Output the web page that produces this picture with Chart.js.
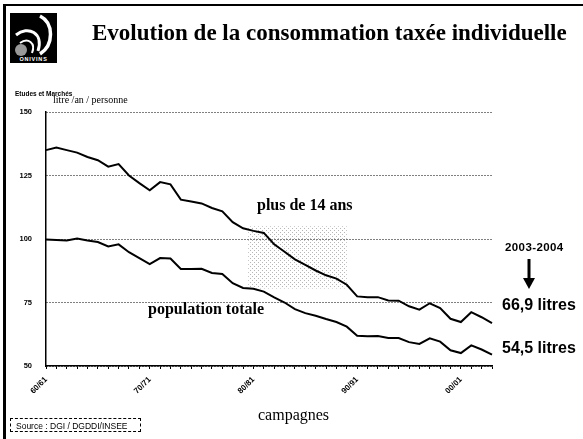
<!DOCTYPE html>
<html lang="fr">
<head>
<meta charset="utf-8">
<title>Evolution de la consommation taxée individuelle</title>
<script src="https://cdn.jsdelivr.net/npm/chart.js@4/dist/chart.umd.min.js"></script>
<style>
  html, body { margin: 0; padding: 0; background: #fff; }
  #page { position: relative; width: 583px; height: 439px; overflow: hidden; background: #fff; }
  #consoChart { position: absolute; left: 0; top: 0; }
  .txt { position: absolute; white-space: nowrap; color: #000; }
  .serif { font-family: "Liberation Serif", "DejaVu Serif", serif; }
  .sans { font-family: "Liberation Sans", Arial, sans-serif; }
  #frameTop { position: absolute; left: 3px; top: 4px; width: 580px; height: 2px; background: #000; }
  #frameLeft { position: absolute; left: 3px; top: 4px; width: 3px; height: 435px; background: #000; }
  #logo { position: absolute; left: 10px; top: 13px; }
  #source { position: absolute; left: 10px; top: 418px; width: 131px; height: 14px; border: 1px dashed #000;
            font: 8.5px "Liberation Sans", Arial, sans-serif; line-height: 14px; padding-left: 5px; box-sizing: border-box; }
</style>
</head>
<body>
<div id="page">
  <canvas id="consoChart" width="583" height="439"></canvas>
  <div id="frameTop"></div>
  <div id="frameLeft"></div>

  <svg id="logo" width="47" height="50" viewBox="0 0 47 50">
    <rect x="0" y="0" width="47" height="50" fill="#000"/>
    <path d="M30 3 C44 10 44 32 30 41" stroke="#fff" stroke-width="3.5" fill="none"/>
    <path d="M6 22 C18 12 34 20 28 38" stroke="#fff" stroke-width="3" fill="none"/>
    <path d="M10 30 C18 24 26 30 22 40" stroke="#fff" stroke-width="2" fill="none"/>
    <circle cx="11" cy="37" r="6" fill="#999"/>
    <text x="23.5" y="48" fill="#fff" font-family="Liberation Sans, Arial, sans-serif" font-size="5.5" font-weight="bold" text-anchor="middle" letter-spacing="0.8">ONIVINS</text>
  </svg>

  <div class="txt serif" style="left:92px; top:20px; font-size:23px; font-weight:bold;">Evolution de la consommation taxée individuelle</div>
  <div class="txt sans" style="left:15px; top:90px; font-size:6.5px; font-weight:bold;">Etudes et Marchés</div>
  <div class="txt serif" style="left:53px; top:94px; font-size:10px;">litre /an / personne</div>

  <div class="txt serif" style="left:257px; top:196px; font-size:16px; font-weight:bold;">plus de 14 ans</div>
  <div class="txt serif" style="left:148px; top:300px; font-size:16px; font-weight:bold;">population totale</div>

  <div class="txt sans" style="left:505px; top:241px; font-size:11.5px; font-weight:bold; letter-spacing:0.4px;">2003-2004</div>
  <svg class="txt" style="left:521px; top:258px;" width="16" height="32" viewBox="0 0 16 32">
    <line x1="8" y1="1" x2="8" y2="22" stroke="#000" stroke-width="3"/>
    <polygon points="2,20 14,20 8,31" fill="#000"/>
  </svg>
  <div class="txt sans" style="left:502px; top:296px; font-size:16px; font-weight:bold;">66,9 litres</div>
  <div class="txt sans" style="left:502px; top:339px; font-size:16px; font-weight:bold;">54,5 litres</div>

  <div class="txt serif" style="left:258px; top:406px; font-size:16px;">campagnes</div>
  <div id="source">Source : DGI / DGDDI/INSEE</div>
</div>

<script>
// campagnes 60/61 .. 03/04
const campagnes = [
  '60/61', '61/62', '62/63', '63/64', '64/65', '65/66', '66/67', '67/68', '68/69', '69/70',
  '70/71', '71/72', '72/73', '73/74', '74/75', '75/76', '76/77', '77/78', '78/79', '79/80',
  '80/81', '81/82', '82/83', '83/84', '84/85', '85/86', '86/87', '87/88', '88/89', '89/90',
  '90/91', '91/92', '92/93', '93/94', '94/95', '95/96', '96/97', '97/98', '98/99', '99/00',
  '00/01', '01/02', '02/03', '03/04'
];

// litres / an / personne
const plus14ans = [
  135, 136, 135, 134, 132.3, 131, 128.5, 129.5, 125, 122,
  119.2, 122.4, 121.5, 115.5, 114.8, 114, 112.2, 110.9, 106.6, 104.2,
  103.2, 102.4, 97.9, 95, 92, 89.8, 87.6, 85.7, 84.4, 82,
  77.4, 77.1, 77.1, 75.8, 75.7, 73.5, 72.2, 74.7, 72.8, 68.6,
  67.3, 71.2, 69.2, 66.9
];

const populationTotale = [
  99.8, 99.6, 99.4, 100.2, 99.4, 98.8, 97.1, 97.9, 94.8, 92.5,
  90.1, 92.5, 92.3, 88.2, 88.2, 88.3, 86.6, 86.2, 82.6, 80.7,
  80.4, 79.3, 77, 75, 72.4, 70.8, 69.8, 68.5, 67.3, 65.5,
  61.9, 61.7, 61.8, 61, 61, 59.4, 58.7, 60.9, 59.6, 56.2,
  55.1, 58.1, 56.5, 54.5
];

const yTicks = [50, 75, 100, 125, 150];
// only every tenth campaign gets a printed label
const labelledCampagnes = ['60/61', '70/71', '80/81', '90/91', '00/01'];

// grey screened patch behind the curves (index / value range)
const screenPatch = { from: 19.5, to: 29, low: 80.5, high: 105 };

const screenPlugin = {
  id: 'screen',
  beforeDatasetsDraw(chart) {
    const { ctx, scales: { x, y } } = chart;
    const dot = document.createElement('canvas');
    dot.width = 4; dot.height = 4;
    const dctx = dot.getContext('2d');
    dctx.fillStyle = 'rgba(110,110,110,0.5)';
    dctx.fillRect(0, 0, 1, 1);
    dctx.fillRect(2, 2, 1, 1);
    const x1 = x.getPixelForValue(screenPatch.from);
    const x2 = x.getPixelForValue(screenPatch.to);
    const y1 = y.getPixelForValue(screenPatch.high);
    const y2 = y.getPixelForValue(screenPatch.low);
    ctx.save();
    ctx.fillStyle = ctx.createPattern(dot, 'repeat');
    ctx.fillRect(x1, y1, x2 - x1, y2 - y1);
    ctx.restore();
  }
};

const ctx = document.getElementById('consoChart').getContext('2d');
new Chart(ctx, {
  type: 'line',
  data: {
    labels: campagnes,
    datasets: [
      {
        label: 'plus de 14 ans',
        data: plus14ans,
        borderColor: '#000',
        borderWidth: 2,
        pointRadius: 0,
        tension: 0
      },
      {
        label: 'population totale',
        data: populationTotale,
        borderColor: '#000',
        borderWidth: 2,
        pointRadius: 0,
        tension: 0
      }
    ]
  },
  options: {
    responsive: false,
    animation: false,
    layout: { padding: { top: 112, right: 91, left: 0, bottom: 0 } },
    plugins: {
      legend: { display: false },
      tooltip: { enabled: false }
    },
    scales: {
      x: {
        offset: false,
        afterFit(scale) { scale.height = 73; },
        grid: {
          drawOnChartArea: false,
          drawTicks: true,
          tickLength: 3,
          tickColor: '#000',
          tickWidth: 1
        },
        border: { display: true, color: '#000', width: 1.5 },
        ticks: {
          autoSkip: false,
          minRotation: 45,
          maxRotation: 45,
          padding: 6,
          color: '#000',
          font: { family: 'Liberation Sans, Arial, sans-serif', size: 8, weight: 'bold' },
          callback(value) {
            const lab = this.getLabelForValue(value);
            return labelledCampagnes.includes(lab) ? lab : '';
          }
        }
      },
      y: {
        min: 50,
        max: 150,
        afterFit(scale) { scale.width = 46; },
        afterBuildTicks(scale) { scale.ticks = yTicks.map(v => ({ value: v })); },
        grid: {
          color: '#000',
          lineWidth: 1,
          drawTicks: false
        },
        border: { display: true, color: '#000', width: 1.5, dash: [1, 2] },
        ticks: {
          padding: 14,
          color: '#000',
          font: { family: 'Liberation Sans, Arial, sans-serif', size: 7.5, weight: 'bold' }
        }
      }
    }
  },
  plugins: [screenPlugin]
});
</script>
</body>
</html>
